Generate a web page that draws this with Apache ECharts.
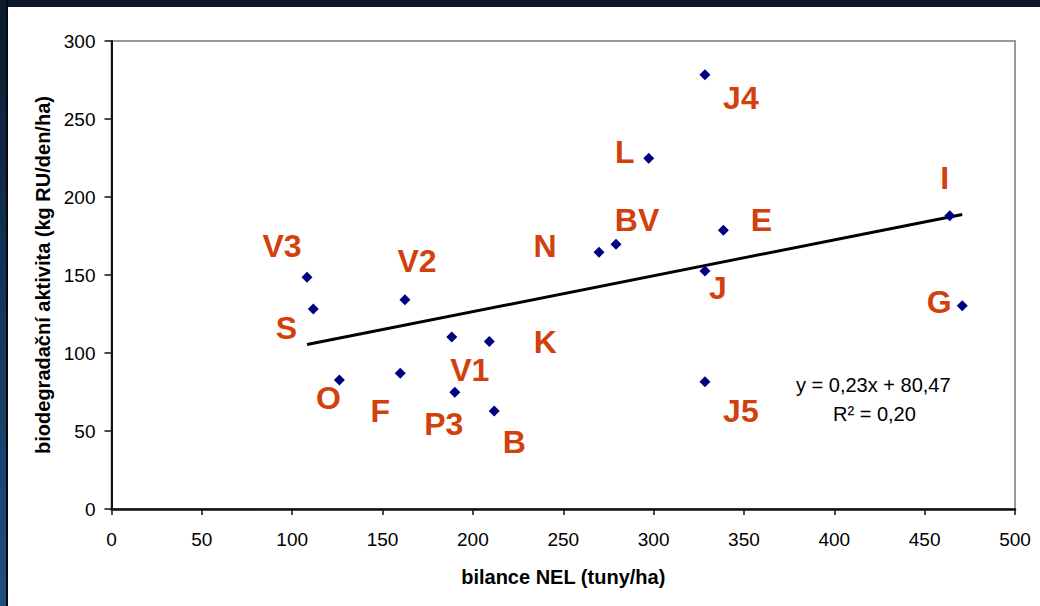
<!DOCTYPE html>
<html>
<head>
<meta charset="utf-8">
<script src="https://cdn.jsdelivr.net/npm/echarts@6/dist/echarts.min.js"></script>
<style>
  html, body { margin: 0; padding: 0; background: #ffffff; }
  #topbar { position: absolute; left: 0; top: 0; width: 1040px; height: 7px; background: #0b1828; }
  #leftbar { position: absolute; left: 0; top: 0; width: 6px; height: 606px;
    background: linear-gradient(to bottom, #0c1a2b 0%, #143052 40%, #1f4f82 100%); }
  #leftedge { position: absolute; left: 6px; top: 0; width: 2px; height: 606px; background: #050a12; }
  #chart { position: absolute; left: 0; top: 0; width: 1040px; height: 606px; }
</style>
</head>
<body>
<div id="topbar"></div>
<div id="leftbar"></div>
<div id="leftedge"></div>
<div id="chart"></div>
<script>
// ---- data ----
const names   = ['V3', 'S', 'O', 'F', 'V2', 'P3', 'V1', 'K', 'B', 'N', 'BV', 'L', 'J4', 'J', 'J5', 'E', 'I', 'G'];
const xValues = [108.2, 111.7, 126.1, 159.8, 162.4, 190.0, 188.3, 209.1, 211.8, 269.8, 279.2, 297.3, 328.4, 328.4, 328.4, 338.6, 463.9, 470.8];
const yValues = [148.5, 128.2, 82.7, 87.0, 134.2, 74.8, 110.3, 107.4, 62.8, 164.6, 169.7, 224.9, 278.4, 152.6, 81.6, 178.7, 188.0, 130.3];
const trendX  = [108.2, 470.8];
const trendY  = [105.4, 188.8];
const equationText = 'y = 0,23x + 80,47';
const r2Text = 'R² = 0,20';
const xAxisName = 'bilance NEL (tuny/ha)';
const yAxisName = 'biodegradační aktivita (kg RU/den/ha)';
const xTickMin = 0, xTickMax = 500, xTickStep = 50;
const yTickMin = 0, yTickMax = 300, yTickStep = 50;

// ---- label placement (layout only) ----
const labelOffsets = {
  V3: [-25, -31], S: [-27, 19], O: [-11, 18], F: [-20, 38], V2: [12, -39],
  P3: [-11, 32], V1: [18, 33], K: [56, 1], B: [20, 31], N: [-54, -6],
  BV: [21, -24], L: [-24, -6], J4: [36, 23], J: [13, 17], J5: [36, 29],
  E: [38, -10], I: [-5, -38], G: [-23, -4]
};

const scatterData = names.map((n, i) => ({
  name: n,
  value: [xValues[i], yValues[i]],
  label: { offset: labelOffsets[n] }
}));
const trendData = trendX.map((x, i) => [x, trendY[i]]);

const chart = echarts.init(document.getElementById('chart'), null, { renderer: 'svg' });
chart.setOption({
  backgroundColor: 'transparent',
  animation: false,
  grid: {
    left: 111.5, right: 25, top: 41, bottom: 97,
    show: true, borderColor: '#9a9a9a', borderWidth: 2, backgroundColor: 'transparent'
  },
  xAxis: {
    type: 'value', min: xTickMin, max: xTickMax, interval: xTickStep,
    name: xAxisName, nameLocation: 'middle', nameGap: 58,
    nameTextStyle: { fontFamily: 'Liberation Sans', fontWeight: 'bold', fontSize: 20, color: '#000' },
    axisLine: { show: true, onZero: false, lineStyle: { color: '#111', width: 2.5 } },
    axisTick: { show: true, inside: false, length: 6, lineStyle: { color: '#111', width: 1.5 } },
    axisLabel: { margin: 21, fontFamily: 'Liberation Sans', fontSize: 19, color: '#000' },
    splitLine: { show: false }
  },
  yAxis: {
    type: 'value', min: yTickMin, max: yTickMax, interval: yTickStep,
    name: yAxisName, nameLocation: 'middle', nameGap: 57,
    nameTextStyle: { fontFamily: 'Liberation Sans', fontWeight: 'bold', fontSize: 20, color: '#000' },
    axisLine: { show: true, onZero: false, lineStyle: { color: '#111', width: 2 } },
    axisTick: { show: true, inside: false, length: 7, lineStyle: { color: '#111', width: 1.5 } },
    axisLabel: { margin: 16, fontFamily: 'Liberation Sans', fontSize: 19, color: '#000' },
    splitLine: { show: false }
  },
  series: [
    {
      type: 'line',
      data: trendData,
      showSymbol: false,
      symbol: 'none',
      lineStyle: { color: '#000', width: 3 },
      silent: true,
      z: 2
    },
    {
      type: 'scatter',
      data: scatterData,
      symbol: 'diamond',
      symbolSize: 11,
      itemStyle: { color: '#000080', opacity: 1 },
      label: {
        show: true,
        position: 'inside',
        formatter: p => p.name,
        fontFamily: 'Liberation Sans',
        fontWeight: 'bold',
        fontSize: 32,
        color: '#d2400c',
        opacity: 1
      },
      z: 3
    }
  ],
  graphic: [
    {
      type: 'text', left: 796, top: 375,
      style: { text: equationText, font: '20px "Liberation Sans"', fill: '#000' }
    },
    {
      type: 'text', left: 833, top: 404,
      style: { text: r2Text, font: '20px "Liberation Sans"', fill: '#000' }
    }
  ]
});
</script>
</body>
</html>
